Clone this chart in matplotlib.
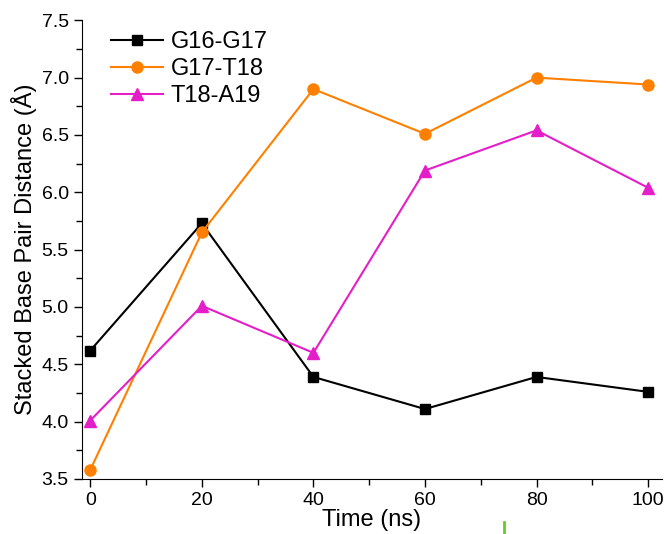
import matplotlib
matplotlib.use("Agg")
import matplotlib.pyplot as plt
from matplotlib.lines import Line2D
from matplotlib.ticker import MultipleLocator, FormatStrFormatter

plt.rcParams["font.family"] = ["Liberation Sans", "DejaVu Sans"]

time_ns = [0, 20, 40, 60, 80, 100]
g16_g17 = [4.62, 5.73, 4.39, 4.11, 4.39, 4.26]
g17_t18 = [3.58, 5.65, 6.90, 6.51, 7.00, 6.94]
t18_a19 = [4.01, 5.01, 4.60, 6.19, 6.54, 6.04]

fig = plt.figure(figsize=(6.66, 5.34), dpi=100)
ax = fig.add_axes([0.123, 0.103, 0.871, 0.859])

ax.plot(time_ns, g16_g17, color="black", marker="s", markersize=7, lw=1.5, label="G16-G17")
ax.plot(time_ns, g17_t18, color="#ff8000", marker="o", markersize=8, lw=1.5, label="G17-T18")
ax.plot(time_ns, t18_a19, color="#e41ec8", marker="^", markersize=8, lw=1.5, label="T18-A19")

ax.set_xlim(-1.5, 102.5)
ax.set_ylim(3.5, 7.5)
ax.xaxis.set_major_locator(MultipleLocator(20))
ax.xaxis.set_minor_locator(MultipleLocator(10))
ax.yaxis.set_major_locator(MultipleLocator(0.5))
ax.yaxis.set_minor_locator(MultipleLocator(0.25))
ax.yaxis.set_major_formatter(FormatStrFormatter("%.1f"))

ax.spines["top"].set_visible(False)
ax.spines["right"].set_visible(False)
ax.tick_params(which="major", direction="out", length=6, width=1, labelsize=14)
ax.tick_params(which="minor", direction="out", length=4, width=1)

ax.set_xlabel("Time (ns)", fontsize=17, labelpad=0)
ax.set_ylabel("Stacked Base Pair Distance (Å)", fontsize=17, labelpad=3)

ax.legend(loc="upper left", bbox_to_anchor=(0.013, 1.022), frameon=False,
          fontsize=17, handlelength=2.2, handletextpad=0.35, labelspacing=0.2)

# small green mark below the axis, as in the reference
fig.add_artist(Line2D([0.7575, 0.7575], [0.0, 0.022], color="#66cc22", lw=2))

fig.savefig("out.png", dpi=100)
